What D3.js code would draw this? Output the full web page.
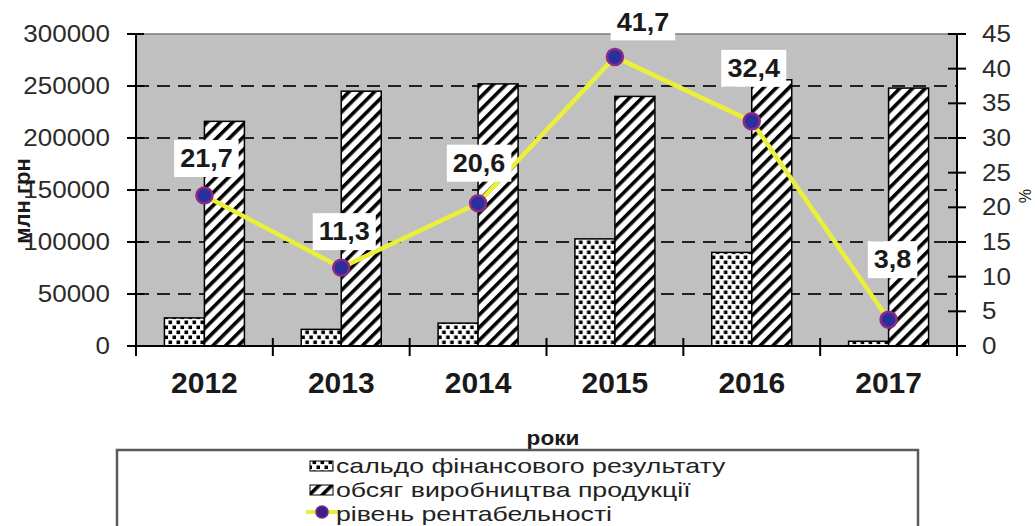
<!DOCTYPE html>
<html>
<head>
<meta charset="utf-8">
<script src="https://cdn.jsdelivr.net/npm/d3@7"></script>
<style>
  html, body { margin: 0; padding: 0; background: #ffffff; }
  svg { display: block; }
</style>
</head>
<body>
<svg id="chart" width="1035" height="526"></svg>
<script>
// ---- DATA ----
const years = ["2012", "2013", "2014", "2015", "2016", "2017"];
const saldo = [27000, 16000, 22000, 103000, 90000, 4500];           // сальдо фінансового результату, млн грн
const production = [216000, 245000, 252000, 240000, 256000, 248000]; // обсяг виробництва продукції, млн грн
const profitability = [21.7, 11.3, 20.6, 41.7, 32.4, 3.8];          // рівень рентабельності, %
const leftTicks = [0, 50000, 100000, 150000, 200000, 250000, 300000];
const rightTicks = [0, 5, 10, 15, 20, 25, 30, 35, 40, 45];
const leftTickLabels = ["0", "50000", "100000", "150000", "200000", "250000", "300000"];
const rightTickLabels = ["0", "5", "10", "15", "20", "25", "30", "35", "40", "45"];
const legendLabels = ["сальдо фінансового результату", "обсяг виробництва  продукції", "рівень рентабельності"];
const yLeftTitle = "млн грн";
const yRightTitle = "%";
const xTitle = "роки";

// ---- LAYOUT ----
const svg = d3.select("#chart");
const plot = { left: 136, right: 957, top: 34, bottom: 346 };
const FONT = "'Liberation Sans', Arial, sans-serif";
const SX = 1.13; // horizontal stretch of the reference's text

const x = d3.scaleBand().domain(years).range([plot.left, plot.right]).paddingInner(0).paddingOuter(0);
const bw = x.bandwidth();
const barW = 40;
const x1 = d3.scaleBand().domain(["saldo", "production"]).range([0, bw])
  .paddingInner(0).paddingOuter((bw / barW - 2) / 2);
const yL = d3.scaleLinear().domain([0, 300000]).range([plot.bottom, plot.top]);
const yR = d3.scaleLinear().domain([0, 45]).range([plot.bottom, plot.top]);

// patterns
const defs = svg.append("defs");
const dots = defs.append("pattern").attr("id", "dots").attr("patternUnits", "userSpaceOnUse")
  .attr("width", 8).attr("height", 10);
dots.append("rect").attr("width", 8).attr("height", 10).attr("fill", "#fff");
dots.append("rect").attr("x", 0.5).attr("y", 0.5).attr("width", 3.6).attr("height", 3.6).attr("fill", "#000");
dots.append("rect").attr("x", 4.5).attr("y", 5.5).attr("width", 3.6).attr("height", 3.6).attr("fill", "#000");

const hatch = defs.append("pattern").attr("id", "hatch").attr("patternUnits", "userSpaceOnUse")
  .attr("width", 9).attr("height", 9).attr("patternTransform", "rotate(45)");
hatch.append("rect").attr("width", 9).attr("height", 9).attr("fill", "#fff");
hatch.append("rect").attr("x", 0).attr("y", 0).attr("width", 3.6).attr("height", 9).attr("fill", "#000");

function stext(g, px, py, str, o) {
  const t = g.append("g").attr("transform", `translate(${px},${py})`)
    .append("text")
    .attr("transform", `scale(${o.sx ?? SX},1)${o.rot ? " rotate(" + o.rot + ")" : ""}`)
    .attr("font-family", FONT)
    .attr("font-size", o.size)
    .attr("font-weight", o.bold ? "bold" : "normal")
    .attr("fill", o.fill || "#1a1a1a")
    .attr("text-anchor", o.anchor || "middle")
    .attr("dominant-baseline", o.baseline || "central")
    .text(str);
  return t;
}

// plot background
svg.append("rect").attr("x", plot.left).attr("y", plot.top)
  .attr("width", plot.right - plot.left).attr("height", plot.bottom - plot.top)
  .attr("fill", "#c0c0c0");
svg.append("line").attr("x1", plot.left).attr("x2", plot.right)
  .attr("y1", plot.top).attr("y2", plot.top).attr("stroke", "#7a7a7a").attr("stroke-width", 1.5);

// gridlines
svg.append("g").selectAll("line").data(leftTicks.filter(v => v > 0 && v < 300000)).join("line")
  .attr("x1", plot.left).attr("x2", plot.right)
  .attr("y1", d => yL(d)).attr("y2", d => yL(d))
  .attr("stroke", "#222").attr("stroke-width", 2).attr("stroke-dasharray", "13,8");

// bars
const groups = svg.append("g").selectAll("g").data(years).join("g")
  .attr("transform", d => `translate(${x(d)},0)`);
groups.append("rect")
  .attr("x", x1("saldo")).attr("width", x1.bandwidth())
  .attr("y", (d, i) => yL(saldo[i])).attr("height", (d, i) => yL(0) - yL(saldo[i]))
  .attr("fill", "url(#dots)").attr("stroke", "#000").attr("stroke-width", 1.5);
groups.append("rect")
  .attr("x", x1("production")).attr("width", x1.bandwidth())
  .attr("y", (d, i) => yL(production[i])).attr("height", (d, i) => yL(0) - yL(production[i]))
  .attr("fill", "url(#hatch)").attr("stroke", "#000").attr("stroke-width", 1.5);

// axes lines
const axes = svg.append("g").attr("stroke", "#000").attr("stroke-width", 2);
axes.append("line").attr("x1", plot.left).attr("x2", plot.left).attr("y1", plot.top).attr("y2", plot.bottom + 1);
axes.append("line").attr("x1", plot.right).attr("x2", plot.right).attr("y1", plot.top).attr("y2", plot.bottom + 1);
axes.append("line").attr("x1", plot.left).attr("x2", plot.right).attr("y1", plot.bottom).attr("y2", plot.bottom);
// left ticks
axes.selectAll(".lt").data(leftTicks).join("line").attr("class", "lt")
  .attr("x1", plot.left - 9).attr("x2", plot.left + 8)
  .attr("y1", d => yL(d)).attr("y2", d => yL(d));
// right ticks
axes.selectAll(".rt").data(rightTicks).join("line").attr("class", "rt")
  .attr("x1", plot.right - 9).attr("x2", plot.right + 9)
  .attr("y1", d => yR(d)).attr("y2", d => yR(d));
// x ticks at category boundaries
const bounds = years.map(d => x(d)).concat([x(years[years.length - 1]) + bw]);
axes.selectAll(".xt").data(bounds).join("line").attr("class", "xt")
  .attr("x1", d => d).attr("x2", d => d)
  .attr("y1", plot.bottom - 8).attr("y2", plot.bottom + 10);

// tick labels
const tl = svg.append("g");
leftTicks.forEach((v, i) => stext(tl, 110, yL(v), leftTickLabels[i], { size: 23, anchor: "end", fill: "#2a2a2a" }));
rightTicks.forEach((v, i) => stext(tl, 982, yR(v), rightTickLabels[i], { size: 23, anchor: "start", fill: "#2a2a2a" }));
years.forEach(d => stext(tl, x(d) + bw / 2, 382, d, { size: 30, bold: true, sx: 1.0 }));

// axis titles
stext(svg, 22, 201, yLeftTitle, { size: 22, bold: true, sx: 1, rot: -90 });
stext(svg, 1024, 196, yRightTitle, { size: 16, sx: 1, rot: 90 });
stext(svg, 553, 438, xTitle, { size: 20, bold: true });

// line + markers
const cx = (d) => x(d) + bw / 2;
const line = d3.line().x((d, i) => cx(years[i])).y(d => yR(d));
svg.append("path").datum(profitability).attr("d", line)
  .attr("fill", "none").attr("stroke", "#eaf03a").attr("stroke-width", 4.5).attr("stroke-linejoin", "round");
svg.append("g").selectAll("circle").data(profitability).join("circle")
  .attr("cx", (d, i) => cx(years[i])).attr("cy", d => yR(d)).attr("r", 8)
  .attr("fill", "#2b2f9c").attr("stroke", "#8c2a86").attr("stroke-width", 2.5);

// data labels (white boxes)
const labelNudge = [[2, -37], [3, -36], [1, -40], [28, -35], [2, -53], [4, -60]];
const lab = svg.append("g");
profitability.forEach((v, i) => {
  const str = d3.format(".1f")(v).replace(".", ",");
  const px = cx(years[i]) + labelNudge[i][0];
  const py = yR(v) + labelNudge[i][1];
  const g = lab.append("g");
  const rect = g.append("rect").attr("fill", "#fff");
  const t = stext(g, px, py, str, { size: 25, bold: true, sx: 1.08 });
  const bb = t.node().getBBox();
  const w = bb.width * 1.08 + 12, h = 37;
  rect.attr("x", px - w / 2).attr("y", py - h / 2).attr("width", w).attr("height", h);
});

// legend
const lg = svg.append("g");
lg.append("rect").attr("x", 117).attr("y", 450).attr("width", 801).attr("height", 100)
  .attr("fill", "#fff").attr("stroke", "#5a5a5a").attr("stroke-width", 2.5);
const rowY = [466, 490, 514];
lg.append("rect").attr("x", 310).attr("y", rowY[0] - 5).attr("width", 23).attr("height", 10)
  .attr("fill", "url(#dots)").attr("stroke", "#000").attr("stroke-width", 1);
lg.append("rect").attr("x", 310).attr("y", rowY[1] - 5).attr("width", 23).attr("height", 10)
  .attr("fill", "url(#hatch)").attr("stroke", "#000").attr("stroke-width", 1);
lg.append("line").attr("x1", 306).attr("x2", 340).attr("y1", rowY[2] - 2).attr("y2", rowY[2] - 2)
  .attr("stroke", "#eaf03a").attr("stroke-width", 4);
lg.append("circle").attr("cx", 322).attr("cy", rowY[2] - 2).attr("r", 6)
  .attr("fill", "#3a1f8a").attr("stroke", "#7a2a86").attr("stroke-width", 1.5);
legendLabels.forEach((s, i) => stext(lg, 336, rowY[i], s, { size: 21, anchor: "start", sx: 1.27, fill: "#222" }));
</script>
</body>
</html>
